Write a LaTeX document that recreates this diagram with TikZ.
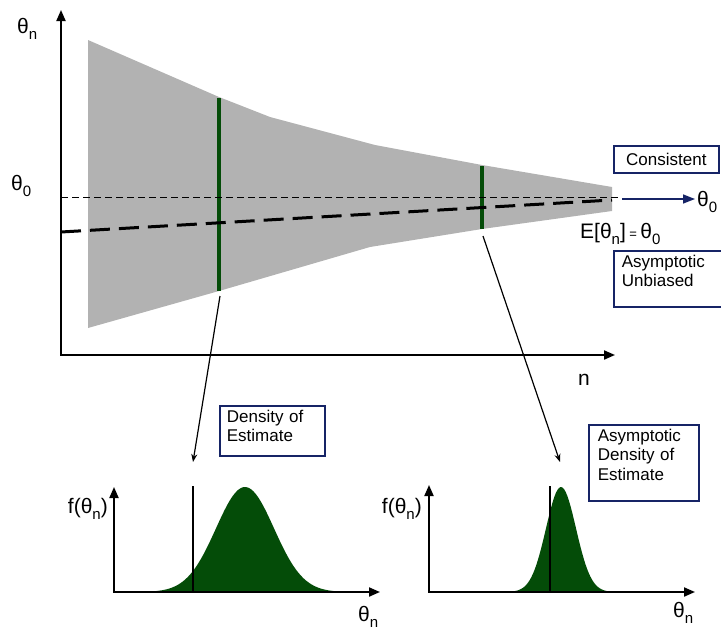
\documentclass[tikz,border=0pt]{standalone}
\usepackage{fontspec}
\setmainfont{Liberation Sans}
\usetikzlibrary{arrows.meta, positioning}
\definecolor{bandgray}{RGB}{178,178,178}
\definecolor{estgreen}{RGB}{4,76,8}
\definecolor{boxnavy}{RGB}{22,36,102}
\newcommand{\thsub}[1]{θ\raisebox{-0.3em}{\fontsize{15}{15}\selectfont #1}}
\newcommand{\bigfont}{\fontsize{21}{24}\selectfont}
\newcommand{\boxfont}{\fontsize{17}{19.5}\selectfont}

\begin{document}
\begin{tikzpicture}[x=1pt, y=-1pt,
    axis/.style={line width=2pt, {Triangle[length=11pt,width=9pt]}-{Triangle[length=11pt,width=9pt]}},
    estline/.style={estgreen, line width=3.5pt},
    meanline/.style={line width=3pt, dash pattern=on 20pt off 9pt},
    truthline/.style={line width=0.9pt, dash pattern=on 7pt off 4pt},
    pointer/.style={line width=1.2pt, -{Stealth[length=8pt,width=6pt]}},
    marker/.style={line width=2pt},
    density/.style={fill=estgreen},
    infobox/.style={draw=boxnavy, line width=1.7pt, fill=white, font=\boxfont,
      align=left, inner xsep=7pt, inner ysep=4pt, anchor=north west},
    biglabel/.style={font=\bigfont, inner sep=0pt}]
  \useasboundingbox (0,0) rectangle (721,629);

  % spread of the estimate
  \fill[bandgray] (88,40) -- (219,97) -- (270,117) -- (375,145) -- (482,165)
    -- (612,187) -- (612,211) -- (482,229) -- (370,247) -- (219,291)
    -- (88,328) -- cycle;

  \coordinate (g1top) at (219,98);
  \coordinate (g1bot) at (219,291);
  \coordinate (g2top) at (482,166);
  \coordinate (g2bot) at (482,229);
  \draw[estline] (g1top) -- (g1bot);
  \draw[estline] (g2top) -- (g2bot);

  \coordinate (truthstart) at (61,197);
  \coordinate (truthend) at (620,197);
  \coordinate (meanstart) at (61,232);
  \coordinate (meanend) at (612,200);
  \draw[truthline] (truthstart) -- (truthend);
  \draw[meanline] (meanstart) -- (meanend);

  \coordinate (limstart) at (622,199);
  \coordinate (limend) at (695,199);
  \draw[boxnavy, line width=1.5pt, -{Triangle[length=12pt,width=9pt]}] (limstart) -- (limend);

  % main axes
  \coordinate (ytop) at (61,10);
  \coordinate (origin) at (61,355);
  \coordinate (xend) at (615,355);
  \draw[axis] (ytop) -- (origin) -- (xend);

  \node[biglabel, anchor=base west] (thetan) at (17,33) {\thsub{n}};
  \node[biglabel, anchor=base west] (thetazero) at (11,190) {\thsub{0}};
  \node[biglabel, anchor=base west] (nlabel) at (578,385) {n};
  \node[biglabel, anchor=base west] (thetalim) at (697,206) {\thsub{0}};
  \node[biglabel, anchor=base west] (expect) at (580,238)
    {E[\thsub{n}]\,{\fontsize{13}{13}\selectfont =}\,\thsub{0}};

  \node[infobox, minimum width=105pt, minimum height=27pt, inner xsep=8pt,
    anchor=north west] (consistent) at (613,145) {Consistent};
  \node[infobox, text width=110pt, text depth=36pt, inner xsep=8pt] (unbiased) at (613,250)
    {Asymptotic\\Unbiased};

  % density at small n
  \fill[density] (130,592) -- plot[domain=130:364, samples=90]
    (\x,{592-105*exp(-(\x-245)*(\x-245)/1682)}) -- (364,592) -- cycle;
  \coordinate (d1top) at (193,486);
  \coordinate (d1bot) at (193,592);
  \draw[marker] (d1top) -- (d1bot);
  \coordinate (f1top) at (114,487);
  \coordinate (f1origin) at (114,592);
  \coordinate (f1end) at (380,592);
  \draw[axis] (f1top) -- (f1origin) -- (f1end);
  \node[biglabel, anchor=base east] (f1label) at (108,513) {f(\thsub{n})};
  \node[biglabel, anchor=base west] (t1label) at (358,621) {\thsub{n}};

  % density at large n
  \fill[density] (505,592) -- plot[domain=505:618, samples=70]
    (\x,{592-105*exp(-(\x-561)*(\x-561)/450)}) -- (618,592) -- cycle;
  \coordinate (d2top) at (550,486);
  \coordinate (d2bot) at (550,592);
  \draw[marker] (d2top) -- (d2bot);
  \coordinate (f2top) at (429,485);
  \coordinate (f2origin) at (429,592);
  \coordinate (f2end) at (695,592);
  \draw[axis] (f2top) -- (f2origin) -- (f2end);
  \node[biglabel, anchor=base east] (f2label) at (422,513) {f(\thsub{n})};
  \node[biglabel, anchor=base west] (t2label) at (673,617) {\thsub{n}};

  \node[infobox, text width=91pt, text depth=30pt] (dens) at (219,405)
    {Density of\\Estimate};
  \node[infobox, text width=92pt, text depth=56pt, inner xsep=9pt] (asydens) at (588,424)
    {Asymptotic\\Density of\\Estimate};

  \coordinate (c1from) at (220,296);
  \coordinate (c1to) at (193,462);
  \coordinate (c2from) at (483,236);
  \coordinate (c2to) at (560,462);
  \draw[pointer] (c1from) -- (c1to);
  \draw[pointer] (c2from) -- (c2to);
\end{tikzpicture}
\end{document}
